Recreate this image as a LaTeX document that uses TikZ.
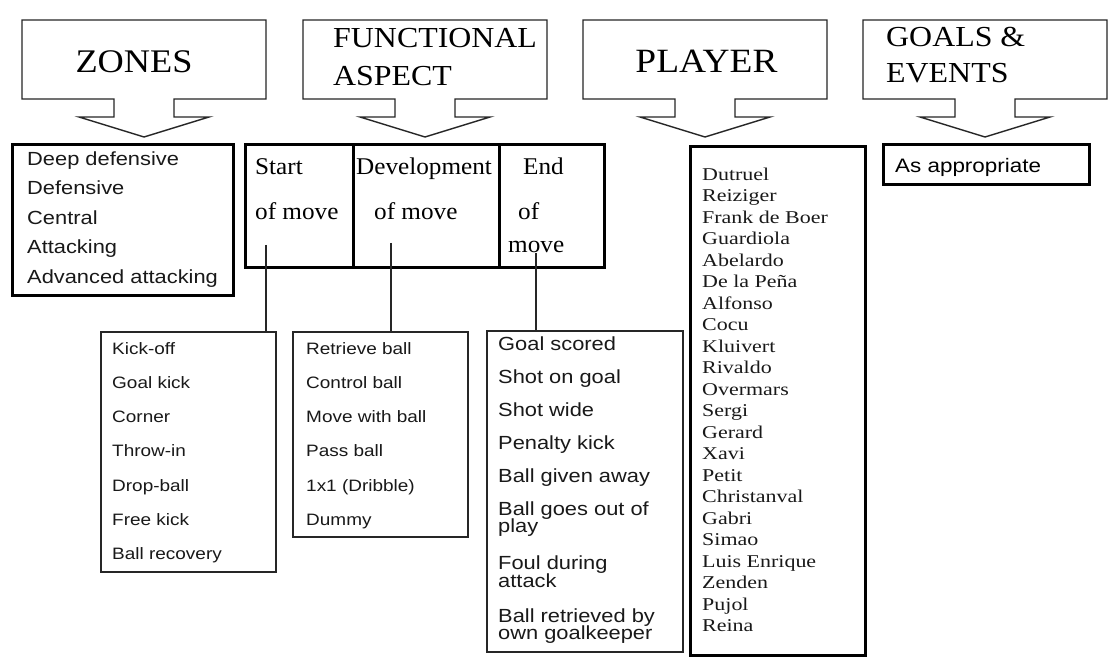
\documentclass[tikz,border=0pt]{standalone}
\usepackage{fontspec}
\newfontfamily\listfont[FakeStretch=1.15]{Liberation Sans}
\newfontfamily\namefont[FakeStretch=1.22]{Liberation Serif}
\newfontfamily\cellfont[FakeStretch=1.05]{Liberation Serif}
\newfontfamily\headfont[FakeStretch=1.1]{Liberation Serif}
\begin{document}
\begin{tikzpicture}[x=1pt,y=-1pt,
  callline/.style={line width=1.4pt, draw=black!85},
  thickbox/.style={draw=black, line width=3pt, inner sep=0pt, outer sep=0pt, anchor=north west},
  thinbox/.style={draw=black!85, line width=1.3pt, inner sep=0pt, outer sep=0pt, anchor=north west},
  conn/.style={draw=black!85, line width=1.3pt},
  listtxt/.style={anchor=north west, align=left, inner sep=0pt, text=black!90},
  celltxt/.style={anchor=base west, inner sep=0pt, font=\cellfont\fontsize{24}{28}\selectfont},
  callout/.pic={\draw[callline] (0,0) -- (244,0) -- (244,79) -- (152,79) -- (152,97) -- (187,97) -- (122,117) -- (57,97) -- (92,97) -- (92,79) -- (0,79) -- cycle;}
]
\fill[white] (0,0) rectangle (1110,660);
\useasboundingbox (0,0) rectangle (1110,660);

% callouts
\pic (czones) at (22,20) {callout};
\pic (cfunc) at (303,20) {callout};
\pic (cplayer) at (583,20) {callout};
\pic (cgoals) at (863,20) {callout};

\node[anchor=base, inner sep=0pt, font=\headfont\fontsize{33}{38}\selectfont] (hzones) at (134,73) {ZONES};
\node[anchor=north west, align=left, inner sep=0pt, font=\headfont\fontsize{29}{38}\selectfont] (hfunc) at (333,27.8) {FUNCTIONAL\\ASPECT};
\node[anchor=base, inner sep=0pt, font=\headfont\fontsize{34}{38}\selectfont] (hplayer) at (706.5,73) {PLAYER};
\node[anchor=north west, align=left, inner sep=0pt, font=\headfont\fontsize{29}{36}\selectfont] (hgoals) at (886,27.4) {GOALS \&\\EVENTS};

% zones box
\node[thickbox, minimum width=221, minimum height=150] (zones) at (12,145) {};
\node[listtxt, font=\listfont\fontsize{19}{29.5}\selectfont] (zonetxt) at (27,151.3)
  {Deep defensive\\Defensive\\Central\\Attacking\\Advanced attacking};

% functional cells
\node[thickbox, minimum width=108, minimum height=122] (startc) at (245,145) {};
\node[thickbox, minimum width=146, minimum height=122] (devc) at (353,145) {};
\node[thickbox, minimum width=105, minimum height=122] (endc) at (499,145) {};
\node[celltxt] (st1) at (255,175) {Start};
\node[celltxt] (st2) at (255,220) {of move};
\node[celltxt] (dv1) at (356,175) {Development};
\node[celltxt] (dv2) at (374,220) {of move};
\node[celltxt] (en1) at (523,175) {End};
\node[celltxt] (en2) at (518,220) {of};
\node[celltxt] (en3) at (508,253) {move};

% lists
\node[thinbox, minimum width=175, minimum height=240] (kick) at (101,332) {};
\node[listtxt, font=\listfont\fontsize{16.5}{34.2}\selectfont] (kicktxt) at (112,342.1)
  {Kick-off\\Goal kick\\Corner\\Throw-in\\Drop-ball\\Free kick\\Ball recovery};
\node[thinbox, minimum width=175, minimum height=205] (retr) at (293,332) {};
\node[listtxt, font=\listfont\fontsize{16.5}{34.2}\selectfont] (retrtxt) at (306,342.1)
  {Retrieve ball\\Control ball\\Move with ball\\Pass ball\\1x1 (Dribble)\\Dummy};
\node[thinbox, minimum width=196, minimum height=321] (goalsl) at (487,331) {};
\node[listtxt, font=\listfont\fontsize{19}{33}\selectfont] (goalstxt) at (498,336.3)
  {Goal scored\\Shot on goal\\Shot wide\\Penalty kick\\Ball given away\\Ball goes out of\\[-15.5pt]play\\[4pt]Foul during\\[-15.5pt]attack\\[2pt]Ball retrieved by\\[-15.5pt]own goalkeeper};

% connectors
\coordinate (sttail) at (266,245);
\coordinate (dvtail) at (391,243);
\coordinate (entail) at (536,253);
\draw[conn] (sttail) -- (sttail |- kick.north);
\draw[conn] (dvtail) -- (dvtail |- retr.north);
\draw[conn] (entail) -- (entail |- goalsl.north);

% players
\node[thickbox, minimum width=175, minimum height=508] (players) at (690,147) {};
\node[listtxt, font=\namefont\fontsize{18}{21.5}\selectfont] (playertxt) at (702,167.7)
  {Dutruel\\Reiziger\\Frank de Boer\\Guardiola\\Abelardo\\De la Peña\\Alfonso\\Cocu\\Kluivert\\Rivaldo\\Overmars\\Sergi\\Gerard\\Xavi\\Petit\\Christanval\\Gabri\\Simao\\Luis Enrique\\Zenden\\Pujol\\Reina};

% goals & events
\node[thickbox, minimum width=206, minimum height=40] (appr) at (883,145) {};
\node[anchor=base west, inner sep=0pt, font=\listfont\fontsize{19.5}{24}\selectfont] (apprtxt) at (895,173) {As appropriate};
\end{tikzpicture}
\end{document}
